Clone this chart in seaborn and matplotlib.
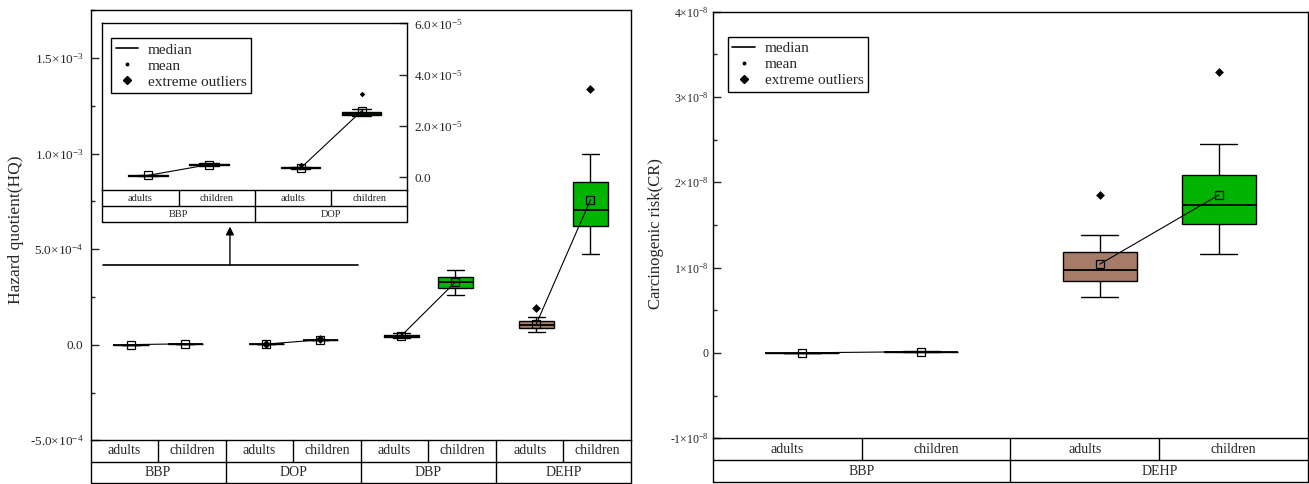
import numpy as np
import pandas as pd
import matplotlib
matplotlib.use("Agg")
import matplotlib.pyplot as plt
import seaborn as sns
from matplotlib.ticker import MultipleLocator

# ---- data --------------------------------------------------------------
# each box: [lower whisker, Q1, median, Q3, upper whisker]
groups = ["adults", "children"]

hq_compounds = ["BBP", "DOP", "DBP", "DEHP"]
hq_adults = [
    [3.0e-7, 5.0e-7, 6.0e-7, 7.5e-7, 1.0e-6],
    [3.2e-6, 3.5e-6, 3.6e-6, 3.8e-6, 4.1e-6],
    [3.5e-5, 4.0e-5, 4.7e-5, 5.3e-5, 5.9e-5],
    [6.8e-5, 8.6e-5, 1.05e-4, 1.24e-4, 1.43e-4],
]
hq_children = [
    [4.2e-6, 4.6e-6, 4.8e-6, 5.0e-6, 5.4e-6],
    [2.38e-5, 2.43e-5, 2.48e-5, 2.54e-5, 2.65e-5],
    [2.62e-4, 2.95e-4, 3.27e-4, 3.54e-4, 3.93e-4],
    [4.76e-4, 6.19e-4, 7.05e-4, 8.52e-4, 1.0e-3],
]
hq_mean_adults = [7.0e-7, 3.5e-6, 4.7e-5, 1.10e-4]
hq_mean_children = [4.9e-6, 2.58e-5, 3.28e-4, 7.58e-4]
hq_out_compound = ["DOP", "DOP", "DEHP", "DEHP"]
hq_out_group = ["adults", "children", "adults", "children"]
hq_out_value = [4.6e-6, 3.24e-5, 1.90e-4, 1.339e-3]

cr_compounds = ["BBP", "DEHP"]
cr_adults = [
    [0.5e-11, 1.0e-11, 1.5e-11, 2.0e-11, 3.0e-11],
    [0.65e-8, 0.84e-8, 0.97e-8, 1.18e-8, 1.38e-8],
]
cr_children = [
    [1.2e-10, 1.4e-10, 1.5e-10, 1.6e-10, 1.8e-10],
    [1.16e-8, 1.51e-8, 1.73e-8, 2.09e-8, 2.45e-8],
]
cr_mean_adults = [1.5e-11, 1.04e-8]
cr_mean_children = [1.5e-10, 1.85e-8]
cr_out_compound = ["DEHP", "DEHP"]
cr_out_group = ["adults", "children"]
cr_out_value = [1.85e-8, 3.29e-8]

hq_ticks = [-5e-4, 0, 5e-4, 1e-3, 1.5e-3]
hq_labels = ["-5.0×10$^{-4}$", "0.0", "5.0×10$^{-4}$", "1.0×10$^{-3}$", "1.5×10$^{-3}$"]
inset_ticks = [0, 2e-5, 4e-5, 6e-5]
inset_labels = ["0.0", "2.0×10$^{-5}$", "4.0×10$^{-5}$", "6.0×10$^{-5}$"]
cr_ticks = [-1e-8, 0, 1e-8, 2e-8, 3e-8, 4e-8]
cr_labels = ["-1×10$^{-8}$", "0", "1×10$^{-8}$", "2×10$^{-8}$", "3×10$^{-8}$", "4×10$^{-8}$"]

colors = {"adults": "#A67C69", "children": "#00B400"}
offset = {"adults": 0.6, "children": 1.4}

# ---- style ---------------------------------------------------------------
sns.set_style("ticks")
plt.rcParams["font.family"] = ["Liberation Serif", "DejaVu Serif"]
plt.rcParams["mathtext.fontset"] = "custom"
plt.rcParams["mathtext.rm"] = "Liberation Serif"
plt.rcParams["mathtext.it"] = "Liberation Serif:italic"
plt.rcParams["mathtext.default"] = "regular"
plt.rcParams["axes.edgecolor"] = "black"
plt.rcParams["axes.linewidth"] = 1.0


def box_frame(compounds, adults, children):
    rows = []
    for i, c in enumerate(compounds):
        for g, stats in zip(groups, (adults[i], children[i])):
            for v in stats:
                rows.append({"compound": c, "group": g, "pos": 2 * i + offset[g], "value": v})
    return pd.DataFrame(rows)


def mean_frame(compounds, m_ad, m_ch):
    rows = []
    for i, c in enumerate(compounds):
        rows.append({"compound": c, "pos": 2 * i + offset["adults"], "value": m_ad[i]})
        rows.append({"compound": c, "pos": 2 * i + offset["children"], "value": m_ch[i]})
    return pd.DataFrame(rows)


def out_frame(compounds, comp, grp, vals, keep):
    rows = []
    for c, g, v in zip(comp, grp, vals):
        if c in keep:
            rows.append({"pos": 2 * keep.index(c) + offset[g], "value": v})
    return pd.DataFrame(rows)


def draw_boxes(ax, compounds, adults, children, m_ad, m_ch, outs, width, out_size):
    df = box_frame(compounds, adults, children)
    sns.boxplot(data=df, x="pos", y="value", hue="group", hue_order=groups,
                palette=colors, native_scale=True, dodge=False, width=width,
                whis=(0, 100), showfliers=False, saturation=1, linewidth=1.0,
                linecolor="black", medianprops={"linewidth": 1.3},
                legend=False, ax=ax)
    sns.lineplot(data=mean_frame(compounds, m_ad, m_ch), x="pos", y="value",
                 units="compound", estimator=None, color="black", lw=0.8,
                 marker="s", markersize=6, markerfacecolor="none",
                 markeredgecolor="black", markeredgewidth=0.9, legend=False, ax=ax)
    if len(outs):
        sns.scatterplot(data=outs, x="pos", y="value", marker="D", s=out_size,
                        color="black", linewidth=0, legend=False, ax=ax, zorder=5)
    ax.set_xlim(0, 2 * len(compounds))
    ax.set_xlabel("")
    ax.set_xticks([])
    ax.tick_params(axis="x", which="both", bottom=False, labelbottom=False)


def draw_table(ax, compounds, row_h, fontsize):
    n = len(compounds)
    kw = dict(transform=ax.transAxes, clip_on=False, color="black", lw=1.0)
    ax.plot([0, 1], [-row_h, -row_h], **kw)
    ax.plot([0, 1], [-2 * row_h, -2 * row_h], **kw)
    ax.plot([0, 0], [0, -2 * row_h], **kw)
    ax.plot([1, 1], [0, -2 * row_h], **kw)
    for k in range(1, 2 * n):
        y0 = -2 * row_h if k % 2 == 0 else -row_h
        ax.plot([k / (2 * n), k / (2 * n)], [0, y0], **kw)
    for i, c in enumerate(compounds):
        for j, g in enumerate(groups):
            ax.text((2 * i + j + 0.5) / (2 * n), -0.5 * row_h, g, transform=ax.transAxes,
                    ha="center", va="center", fontsize=fontsize)
        ax.text((2 * i + 1) / (2 * n), -1.5 * row_h, c, transform=ax.transAxes,
                ha="center", va="center", fontsize=fontsize)


def add_legend(ax, anchor):
    handles = [
        plt.Line2D([], [], color="black", lw=1.2),
        plt.Line2D([], [], color="black", lw=0, marker="o", markersize=1.8),
        plt.Line2D([], [], color="black", lw=0, marker="D", markersize=4),
    ]
    leg = ax.legend(handles, ["median", "mean", "extreme outliers"], loc="upper left",
                    bbox_to_anchor=anchor, borderaxespad=0, fontsize=11,
                    handlelength=1.5, handletextpad=0.6, labelspacing=0.15,
                    borderpad=0.3, fancybox=False, framealpha=1, edgecolor="black")
    leg.get_frame().set_linewidth(1.0)


W, H = 1309, 484
fig = plt.figure(figsize=(W / 100, H / 100), dpi=100)


def rect(x0, y0, x1, y1):
    return [x0 / W, 1 - y1 / H, (x1 - x0) / W, (y1 - y0) / H]


# ---- left panel: hazard quotient -----------------------------------------
ax1 = fig.add_axes(rect(90.5, 10.3, 631, 440.3))
hq_outs = out_frame(hq_compounds, hq_out_compound, hq_out_group, hq_out_value, hq_compounds)
draw_boxes(ax1, hq_compounds, hq_adults, hq_children, hq_mean_adults, hq_mean_children,
           hq_outs, 0.65, 20)
ax1.set_ylim(-5e-4, 1.75e-3)
ax1.set_yticks(hq_ticks, labels=hq_labels)
ax1.yaxis.set_minor_locator(MultipleLocator(2.5e-4))
ax1.tick_params(axis="y", which="major", direction="in", length=6, width=1, labelsize=9.5, pad=5)
ax1.tick_params(axis="y", which="minor", direction="in", length=3, width=1)
ax1.set_ylabel("Hazard quotient(HQ)", fontsize=12.5)
ax1.yaxis.set_label_coords(-0.123, 0.49)
draw_table(ax1, hq_compounds, 21.4 / 430, 10)

# bracket + arrow pointing to the zoomed inset
ax1.plot([0.023, 0.495], [0.408, 0.408], transform=ax1.transAxes, color="black", lw=1.2)
ax1.annotate("", xy=(0.258, 0.497), xytext=(0.258, 0.408), xycoords="axes fraction",
             arrowprops=dict(arrowstyle="-|>", color="black", lw=1.0,
                             mutation_scale=12, shrinkA=0, shrinkB=0))

# ---- inset: BBP and DOP zoomed ---------------------------------------------
ax_in = fig.add_axes(rect(102.3, 23.3, 407.3, 190))
ax_in.set_facecolor("white")
in_comp = hq_compounds[:2]
in_outs = out_frame(in_comp, hq_out_compound, hq_out_group, hq_out_value, in_comp)
draw_boxes(ax_in, in_comp, hq_adults[:2], hq_children[:2], hq_mean_adults[:2],
           hq_mean_children[:2], in_outs, 0.65, 8)
ax_in.set_ylim(-5e-6, 6e-5)
ax_in.yaxis.tick_right()
ax_in.set_yticks(inset_ticks, labels=inset_labels)
ax_in.tick_params(axis="y", direction="in", length=6, width=1, labelsize=9.5, pad=5,
                  left=False, right=True)
ax_in.set_ylabel("")
draw_table(ax_in, in_comp, 16.2 / 166.7, 7.5)
add_legend(ax_in, (0.0285, 0.91))

# ---- right panel: carcinogenic risk ---------------------------------------
ax2 = fig.add_axes(rect(713, 11.5, 1308, 438.3))
cr_outs = out_frame(cr_compounds, cr_out_compound, cr_out_group, cr_out_value, cr_compounds)
draw_boxes(ax2, cr_compounds, cr_adults, cr_children, cr_mean_adults, cr_mean_children,
           cr_outs, 0.625, 20)
ax2.set_ylim(-1e-8, 4e-8)
ax2.set_yticks(cr_ticks, labels=cr_labels)
ax2.yaxis.set_minor_locator(MultipleLocator(0.5e-8))
ax2.tick_params(axis="y", which="major", direction="in", length=6, width=1, labelsize=8.5, pad=3)
ax2.tick_params(axis="y", which="minor", direction="in", length=3, width=1)
ax2.set_ylabel("Carcinogenic risk(CR)", fontsize=12)
ax2.yaxis.set_label_coords(-0.082, 0.48)
draw_table(ax2, cr_compounds, 21.8 / 426.8, 10)
add_legend(ax2, (0.025, 0.94))

fig.savefig("out.png", dpi=100)
